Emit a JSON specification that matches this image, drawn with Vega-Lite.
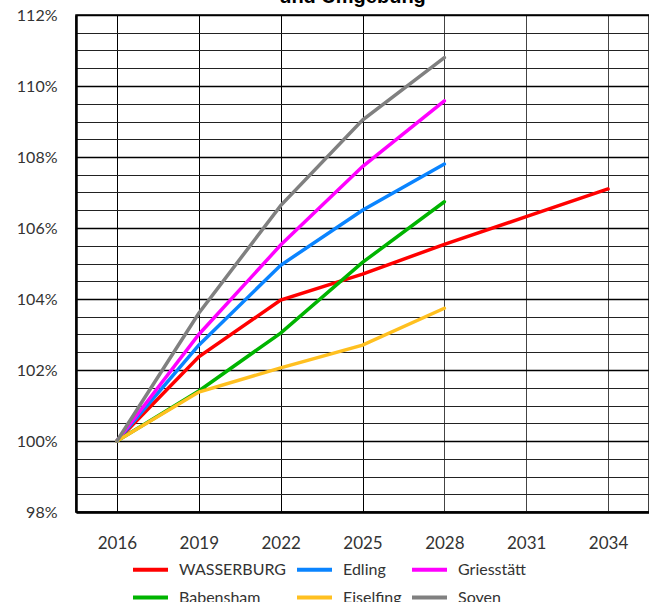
{
  "$schema": "https://vega.github.io/schema/vega-lite/v6.json",
  "autosize": {"type": "none"},
  "padding": {"left": 76, "top": 15, "right": 0, "bottom": 90},
  "width": 573,
  "height": 497,
  "background": "white",
  "title": {
    "text": "und Umgebung",
    "font": "Liberation Sans",
    "fontWeight": "bold",
    "fontSize": 20,
    "color": "black",
    "anchor": "middle",
    "baseline": "alphabetic",
    "offset": -16,
    "dx": -10
  },
  "config": {
    "view": {"stroke": "black", "strokeWidth": 1.5},
    "font": "Lato"
  },
  "data": {
    "values": [
      {"year": 2016, "region": "WASSERBURG", "value": 100},
      {"year": 2019, "region": "WASSERBURG", "value": 102.37},
      {"year": 2022, "region": "WASSERBURG", "value": 103.97},
      {"year": 2025, "region": "WASSERBURG", "value": 104.7},
      {"year": 2028, "region": "WASSERBURG", "value": 105.54},
      {"year": 2031, "region": "WASSERBURG", "value": 106.32},
      {"year": 2034, "region": "WASSERBURG", "value": 107.1},
      {"year": 2016, "region": "Edling", "value": 100},
      {"year": 2019, "region": "Edling", "value": 102.7},
      {"year": 2022, "region": "Edling", "value": 104.95},
      {"year": 2025, "region": "Edling", "value": 106.5},
      {"year": 2028, "region": "Edling", "value": 107.8},
      {"year": 2016, "region": "Griesstätt", "value": 100},
      {"year": 2019, "region": "Griesstätt", "value": 103.0},
      {"year": 2022, "region": "Griesstätt", "value": 105.52},
      {"year": 2025, "region": "Griesstätt", "value": 107.73},
      {"year": 2028, "region": "Griesstätt", "value": 109.58},
      {"year": 2016, "region": "Babensham", "value": 100},
      {"year": 2019, "region": "Babensham", "value": 101.41},
      {"year": 2022, "region": "Babensham", "value": 103.04},
      {"year": 2025, "region": "Babensham", "value": 105.03},
      {"year": 2028, "region": "Babensham", "value": 106.74},
      {"year": 2016, "region": "Eiselfing", "value": 100},
      {"year": 2019, "region": "Eiselfing", "value": 101.38},
      {"year": 2022, "region": "Eiselfing", "value": 102.06},
      {"year": 2025, "region": "Eiselfing", "value": 102.7},
      {"year": 2028, "region": "Eiselfing", "value": 103.74},
      {"year": 2016, "region": "Soyen", "value": 100},
      {"year": 2019, "region": "Soyen", "value": 103.6},
      {"year": 2022, "region": "Soyen", "value": 106.63},
      {"year": 2025, "region": "Soyen", "value": 109.04},
      {"year": 2028, "region": "Soyen", "value": 110.8}
    ]
  },
  "mark": {"type": "line", "strokeWidth": 3.5, "strokeCap": "round"},
  "encoding": {
    "x": {
      "field": "year",
      "type": "quantitative",
      "scale": {"domain": [2014.5, 2035.5], "nice": false, "zero": false},
      "axis": {
        "title": null,
        "values": [2016, 2019, 2022, 2025, 2028, 2031, 2034],
        "format": "d",
        "ticks": false,
        "labelPadding": 23,
        "labelFontSize": 17,
        "labelColor": "#333333",
        "labelFont": "Lato",
        "grid": true,
        "gridColor": {"condition": {"test": "datum.value >= 2028", "value": "#444444"}, "value": "black"},
        "gridOpacity": 1,
        "gridWidth": 1,
        "domainColor": "black",
        "domainWidth": 2.5
      }
    },
    "y": {
      "field": "value",
      "type": "quantitative",
      "scale": {"domain": [98, 112], "nice": false, "zero": false},
      "axis": {
        "title": null,
        "values": [98, 98.5, 99, 99.5, 100, 100.5, 101, 101.5, 102, 102.5, 103, 103.5, 104, 104.5, 105, 105.5, 106, 106.5, 107, 107.5, 108, 108.5, 109, 109.5, 110, 110.5, 111, 111.5, 112],
        "labelExpr": "datum.value % 2 == 0 ? datum.value + '%' : ''",
        "ticks": false,
        "labelPadding": 19,
        "labelFontSize": 16,
        "labelColor": "#333333",
        "labelFont": "Lato",
        "grid": true,
        "gridColor": {"condition": {"test": "datum.value % 2 == 0", "value": "black"}, "value": "#222222"},
        "gridWidth": {"condition": {"test": "datum.value % 2 == 0", "value": 1.5}, "value": 1},
        "gridOpacity": 1,
        "domainColor": "black",
        "domainWidth": 2.5
      }
    },
    "color": {
      "field": "region",
      "type": "nominal",
      "scale": {
        "domain": ["WASSERBURG", "Edling", "Griesstätt", "Babensham", "Eiselfing", "Soyen"],
        "range": ["#ff0000", "#0a84ff", "#ff00ff", "#00b400", "#ffc020", "#808080"]
      },
      "legend": {
        "title": null,
        "orient": "none",
        "legendX": 55,
        "legendY": 535,
        "direction": "horizontal",
        "columns": 3,
        "columnPadding": 2,
        "rowPadding": -6,
        "symbolType": "stroke",
        "symbolSize": 1225,
        "symbolStrokeWidth": 4,
        "labelFontSize": 16,
        "labelFont": "Lato",
        "labelColor": "#333333",
        "labelOffset": 9,
        "labelLimit": 300
      }
    }
  }
}
